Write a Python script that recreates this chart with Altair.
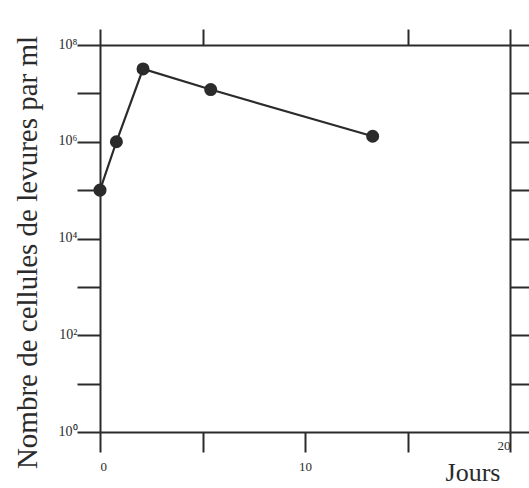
import altair as alt
import pandas as pd

# Data
days = [0, 0.8, 2.1, 5.4, 13.3]
cells = [1e5, 1e6, 3.2e7, 1.2e7, 1.3e6]

y_ticks = [1, 10, 100, 1e3, 1e4, 1e5, 1e6, 1e7, 1e8]
x_ticks_bottom = [0, 5, 10, 15, 20]
x_ticks_top = [0, 5, 15, 20]

df = pd.DataFrame({"day": days, "cells": cells})

FONT = "Liberation Serif"
INK = "#2b2b2b"

ylab_expr = ("datum.value == 1 ? '10⁰' : datum.value == 100 ? '10²' : "
             "datum.value == 10000 ? '10⁴' : datum.value == 1000000 ? '10⁶' : "
             "datum.value == 100000000 ? '10⁸' : ''")
xlab_expr = ("datum.value == 0 ? '0' : datum.value == 10 ? '10' : "
             "datum.value == 20 ? '20' : ''")

xscale = alt.Scale(domain=[0, 20], nice=False, zero=False)
yscale = alt.Scale(type="log", domain=[1, 1e8], nice=False)

line = alt.Chart(df).mark_line(color=INK, strokeWidth=2.2).encode(
    x=alt.X("day:Q", scale=xscale, axis=alt.Axis(
        orient="bottom", values=x_ticks_bottom, tickSize=20, tickWidth=2,
        tickColor=INK, domainColor=INK, domainWidth=2,
        labelExpr=xlab_expr, labelFont=FONT, labelFontSize=13, labelColor=INK,
        labelPadding={"condition": {"test": "datum.value == 20", "value": -13}, "value": 8},
        labelAngle=0, grid=False,
        title="Jours", titleFont=FONT, titleFontSize=26, titleFontWeight="normal",
        titleColor=INK, titleX=400, titleY=48, titleAlign="right",
        titleBaseline="alphabetic")),
    y=alt.Y("cells:Q", scale=yscale, axis=alt.Axis(
        orient="left", values=y_ticks, tickSize=23, tickWidth=2,
        tickColor=INK, domainColor=INK, domainWidth=2,
        labelExpr=ylab_expr, labelFont=FONT, labelFontSize=14, labelColor=INK,
        labelPadding=0, labelBaseline="bottom", labelOffset=6, grid=False,
        title="Nombre de cellules de levures par ml", titleFont=FONT,
        titleFontSize=29, titleFontWeight="normal", titleColor=INK,
        titleX=-64, titleY=207, titleAlign="center", titleAngle=270,
        titleBaseline="alphabetic")),
)

points = alt.Chart(df).mark_point(filled=True, color=INK, size=170, opacity=1).encode(
    x=alt.X("day:Q", scale=xscale, axis=alt.Axis(
        orient="top", values=x_ticks_top, tickSize=16, tickWidth=2,
        tickColor=INK, domainColor=INK, domainWidth=2,
        labels=False, grid=False, title=None)),
    y=alt.Y("cells:Q", scale=yscale, axis=alt.Axis(
        orient="right", values=y_ticks, tickSize=20, tickWidth=2,
        tickColor=INK, domainColor=INK, domainWidth=2,
        labels=False, grid=False, title=None)),
)

chart = alt.layer(line, points).resolve_axis(
    x="independent", y="independent"
).properties(
    width=410, height=387,
    autosize=alt.AutoSizeParams(type="none"),
    padding={"left": 100, "top": 45, "right": 19, "bottom": 56},
    background="white",
).configure_view(stroke=None)

chart.save("out.html", embed_options={"renderer": "svg", "actions": False})
